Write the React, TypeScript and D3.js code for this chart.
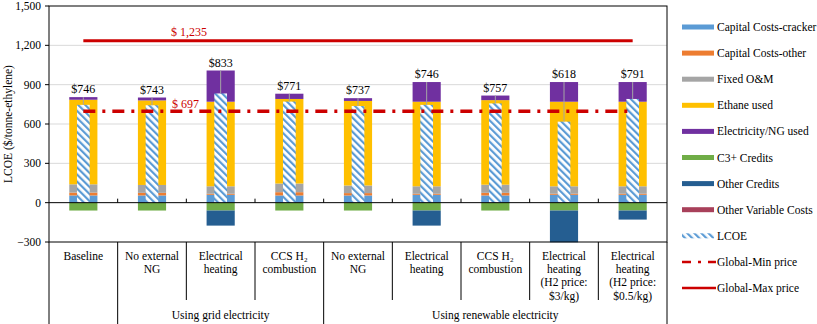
import React from 'react';
import * as d3 from 'd3';

// category labels (one entry per line)
const categoryLines = [
    ['Baseline'],
    ['No external', 'NG'],
    ['Electrical', 'heating'],
    ['CCS H₂', 'combustion'],
    ['No external', 'NG'],
    ['Electrical', 'heating'],
    ['CCS H₂', 'combustion'],
    ['Electrical', 'heating', '(H2 price:', '$3/kg)'],
    ['Electrical', 'heating', '(H2 price:', '$0.5/kg)'],
];
const groups = [
    { label: '', from: 0, to: 0 },
    { label: 'Using grid electricity', from: 1, to: 3 },
    { label: 'Using renewable electricity', from: 4, to: 8 },
];

const capCracker = [55, 55, 60, 55, 55, 60, 55, 60, 60];
const capOther = [22, 20, 8, 25, 18, 8, 20, 8, 8];
const fixedOM = [63, 60, 57, 66, 58, 57, 62, 57, 57];
const ethaneUsed = [645, 645, 645, 645, 645, 645, 645, 645, 645];
const elecNG = [20, 22, 238, 40, 21, 150, 35, 150, 150];
const c3Credits = [-60, -60, -60, -60, -60, -60, -60, -60, -60];
const otherCredits = [0, 0, -115, 0, 0, -115, 0, -242, -69];
const otherVariable = [0, 0, 0, 0, 0, 0, 0, 0, 0];
const lcoe = [746, 743, 833, 771, 737, 746, 757, 618, 791];
const globalMin = 697;
const globalMax = 1235;
const yTicks = [-300, 0, 300, 600, 900, 1200, 1500];

const series = [
    { key: 'Capital Costs-cracker', values: capCracker, color: '#5B9BD5' },
    { key: 'Capital Costs-other', values: capOther, color: '#ED7D31' },
    { key: 'Fixed O&M', values: fixedOM, color: '#A5A5A5' },
    { key: 'Ethane used', values: ethaneUsed, color: '#FFC000' },
    { key: 'Electricity/NG used', values: elecNG, color: '#7030A0' },
    { key: 'C3+ Credits', values: c3Credits, color: '#70AD47' },
    { key: 'Other Credits', values: otherCredits, color: '#255E91' },
    { key: 'Other Variable Costs', values: otherVariable, color: '#A8405A' },
];

const RED = '#CC0000';
const FONT = "'Liberation Serif'";

const left = 49, right = 667, top = 6, bottom = 242;

const App = () => {
    const idx = categoryLines.map((_, i) => i);
    const x = d3.scaleBand().domain(idx).range([left, right]).padding(0);
    const y = d3.scaleLinear().domain([-300, 1500]).range([bottom, top]);
    const bw = x.bandwidth() * 0.41;
    const lw = x.bandwidth() * 0.185;
    const cx = i => x(i) + x.bandwidth() / 2;

    const rows = idx.map(i => {
        const r = {};
        series.forEach(s => { r[s.key] = s.values[i]; });
        return r;
    });
    const stacked = d3.stack()
        .keys(series.map(s => s.key))
        .offset(d3.stackOffsetDiverging)(rows);

    const posTotal = idx.map(i => d3.sum(series, s => Math.max(0, s.values[i])));

    const legendItems = [
        ...series.map(s => ({ label: s.key, type: 'rect', color: s.color })),
        { label: 'LCOE', type: 'hatch' },
        { label: 'Global-Min price', type: 'dashdot' },
        { label: 'Global-Max price', type: 'solid' },
    ];

    return (
        <svg width={817} height={324} style={{ position: 'absolute', left: 0, top: 0, fontFamily: FONT, fontSize: 11.5 }}>
            <defs>
                <pattern id="hatch" width={5} height={5} patternUnits="userSpaceOnUse"
                    patternTransform="rotate(-45)">
                    <rect width={5} height={5} fill="#fff" />
                    <rect width={2.2} height={5} fill="#5B9BD5" />
                </pattern>
            </defs>
            <rect width={817} height={324} fill="#fff" />

            {/* gridlines */}
            {yTicks.filter(t => t > 0 && t < 1500).map(t => (
                <line key={t} x1={left} x2={right} y1={y(t)} y2={y(t)} stroke="#D9D9D9" />
            ))}

            {/* stacked bars */}
            {stacked.map((layer, li) => (
                <g key={layer.key} fill={series[li].color}>
                    {layer.map((d, i) => (
                        Math.abs(d[1] - d[0]) > 0 &&
                        <rect key={i} x={cx(i) - bw / 2} width={bw}
                            y={y(Math.max(d[0], d[1]))}
                            height={Math.abs(y(d[0]) - y(d[1]))} />
                    ))}
                </g>
            ))}

            {/* LCOE bars */}
            {lcoe.map((v, i) => (
                <rect key={i} x={cx(i) - lw / 2} width={lw} y={y(v)} height={y(0) - y(v)}
                    fill="url(#hatch)" />
            ))}

            {/* leader lines */}
            {lcoe.map((v, i) => (
                <line key={i} x1={cx(i)} x2={cx(i)} y1={y(posTotal[i])} y2={y(v)}
                    stroke="#A5A5A5" strokeWidth={1} />
            ))}

            {/* price lines */}
            <line x1={cx(0)} x2={cx(8)} y1={y(globalMax)} y2={y(globalMax)} stroke={RED} strokeWidth={3} />
            <line x1={cx(0)} x2={cx(8)} y1={y(globalMin)} y2={y(globalMin)} stroke={RED}
                strokeWidth={3.5} strokeDasharray="12 7 3 7" />
            <text x={171} y={y(globalMax) - 5} fill={RED} fontSize={12}>$ {d3.format(',')(globalMax)}</text>
            <text x={172} y={y(globalMin) - 3} fill={RED} fontSize={12}>$ {globalMin}</text>

            {/* value labels */}
            {lcoe.map((v, i) => (
                <text key={i} x={cx(i)} y={y(posTotal[i]) - 4} textAnchor="middle" fontSize={12}>${v}</text>
            ))}

            {/* axes */}
            <line x1={left} x2={right} y1={y(0)} y2={y(0)} stroke="#000" />
            {idx.slice(1).map(i => (
                <line key={i} x1={x(i)} x2={x(i)} y1={y(0) - 4} y2={y(0)} stroke="#000" />
            ))}
            <rect x={left} y={top} width={right - left} height={bottom - top} fill="none" stroke="#000" />
            {yTicks.map(t => (
                <g key={t}>
                    <line x1={left - 4} x2={left} y1={y(t)} y2={y(t)} stroke="#000" />
                    <text x={41} y={y(t)} dy="0.35em" textAnchor="end">{d3.format(',')(t)}</text>
                </g>
            ))}
            <text transform={`translate(12,${(top + bottom) / 2}) rotate(-90)`} textAnchor="middle">
                LCOE ($/tonne-ethylene)
            </text>

            {/* category axis */}
            {idx.map(i => {
                const full = groups.some(g => g.from === i);
                return <line key={i} x1={x(i)} x2={x(i)} y1={bottom} y2={full ? 324 : 300} stroke="#000" />;
            })}
            <line x1={right} x2={right} y1={bottom} y2={324} stroke="#000" />
            {categoryLines.map((lines, i) => (
                <g key={i}>
                    {lines.map((t, j) => (
                        <text key={j} x={cx(i)} y={260 + j * 13.2} textAnchor="middle">{t}</text>
                    ))}
                </g>
            ))}
            {groups.filter(g => g.label).map(g => (
                <text key={g.label} x={(x(g.from) + x(g.to) + x.bandwidth()) / 2} y={319}
                    textAnchor="middle">{g.label}</text>
            ))}

            {/* legend */}
            {legendItems.map((it, k) => {
                const ly = 27 + k * 26.1;
                return (
                    <g key={it.label}>
                        {it.type === 'rect' && <rect x={682} y={ly - 2.5} width={32} height={5} fill={it.color} />}
                        {it.type === 'hatch' && <rect x={682} y={ly - 2.5} width={32} height={5} fill="url(#hatch)" />}
                        {it.type === 'dashdot' && <line x1={682} x2={716} y1={ly} y2={ly} stroke={RED} strokeWidth={2.5} strokeDasharray="9 7 3 7" />}
                        {it.type === 'solid' && <line x1={682} x2={716} y1={ly} y2={ly} stroke={RED} strokeWidth={2.5} />}
                        <text x={717} y={ly} dy="0.35em">{it.label}</text>
                    </g>
                );
            })}
        </svg>
    );
};

export default App;
